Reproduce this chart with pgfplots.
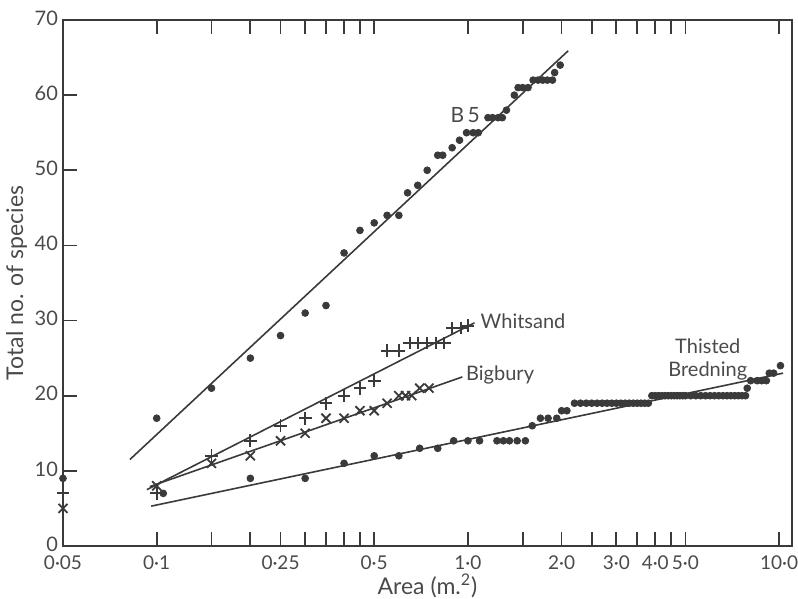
\documentclass[border=0pt]{standalone}
\usepackage{fontspec}
\setmainfont{Lato}
\usepackage{pgfplots}
\pgfplotsset{compat=1.18}
\definecolor{ink}{HTML}{3A3A3A}
\definecolor{txt}{HTML}{4A4A4A}

\begin{document}
\begin{tikzpicture}
\begin{axis}[
    name=ax,
    scale only axis,
    width=364.5pt, height=263pt,
    xmode=log,
    xmin=0.05, xmax=11,
    ymin=0, ymax=70,
    clip=false,
    axis line style={ink, line width=1pt},
    every tick/.style={ink, line width=0.9pt},
    tick align=inside,
    major tick length=7pt,
    xminorticks=false, yminorticks=false,
    xtick={0.05,0.1,0.15,0.2,0.25,0.3,0.35,0.4,0.45,0.5,1,1.5,2,2.5,3,3.5,4,4.5,5,10},
    xticklabels={0·05,0·1,,,0·25,,,,,0·5,1·0,,2·0,,3·0,,4·0,,5·0,10·0},
    xtick pos=both, xticklabel pos=lower,
    ytick={0,10,...,70},
    ytick pos=left,
    /pgf/number format/assume math mode=true,
    ticklabel style={text=txt},
    xticklabel style={font=\fontsize{9.5}{11}\selectfont, yshift=-1.5pt},
    yticklabel style={font=\fontsize{10}{11}\selectfont, xshift=1pt, yshift=1pt},
    xlabel={Area (m.\textsuperscript{2})},
    ylabel={Total no. of species},
    label style={text=txt, font=\fontsize{11.5}{13}\selectfont},
    xlabel style={yshift=5pt},
    ylabel style={yshift=-3pt},
]
% B5 (dots)
\addplot[only marks, mark=*, mark size=1.7pt, ink] coordinates {
 (0.05,9) (0.1,17) (0.15,21) (0.2,25) (0.25,28) (0.3,31) (0.35,32) (0.4,39)
 (0.45,42) (0.5,43) (0.55,44) (0.6,44) (0.64,47) (0.69,48) (0.74,50) (0.8,52)
 (0.83,52) (0.89,53) (0.94,54) (0.99,55) (1.04,55) (1.08,55) (1.16,57) (1.2,57)
 (1.25,57) (1.29,57) (1.33,58) (1.41,60) (1.45,61) (1.5,61) (1.56,61) (1.62,62)
 (1.68,62) (1.74,62) (1.8,62) (1.87,62) (1.9,63) (1.98,64) };
\addplot[ink, line width=0.8pt] coordinates { (0.082,11.5) (2.1,65.9) };
% Whitsand (+)
\addplot[only marks, mark=+, mark size=3.2pt, ink, mark options={line width=0.9pt}] coordinates {
 (0.05,7) (0.1,7) (0.15,12) (0.2,14) (0.25,16) (0.3,17) (0.35,19) (0.4,20)
 (0.45,21) (0.5,22) (0.55,26) (0.6,26) (0.65,27) (0.69,27) (0.74,27) (0.79,27)
 (0.84,27) (0.89,29) (0.95,29) (1.0,29.3) };
\addplot[ink, line width=0.8pt] coordinates { (0.093,7.5) (1.05,29.7) };
% Bigbury (x)
\addplot[only marks, mark=x, mark size=3.2pt, ink, mark options={line width=0.9pt}] coordinates {
 (0.05,5) (0.1,8) (0.15,11) (0.2,12) (0.25,14) (0.3,15) (0.35,17) (0.4,17)
 (0.45,18) (0.5,18) (0.55,19) (0.6,20) (0.63,20) (0.66,20) (0.7,21) (0.75,21) };
\addplot[ink, line width=0.8pt] coordinates { (0.095,7.9) (0.96,22.5) };
% Thisted Bredning (dots)
\addplot[only marks, mark=*, mark size=1.7pt, ink] coordinates {
 (0.105,7) (0.2,9) (0.3,9) (0.4,11) (0.5,12) (0.6,12) (0.7,13) (0.8,13)
 (0.9,14) (1.0,14) (1.09,14) (1.24,14) (1.3,14) (1.36,14) (1.44,14) (1.53,14)
 (1.61,16) (1.71,17) (1.81,17) (1.93,17) (2.0,18) (2.08,18)
 (2.2,19) (2.3,19) (2.4,19) (2.5,19) (2.6,19) (2.7,19) (2.8,19) (2.9,19) (3.0,19)
 (3.1,19) (3.2,19) (3.3,19) (3.4,19) (3.5,19) (3.6,19) (3.7,19) (3.8,19)
 (3.9,20) (4.0,20) (4.1,20) (4.2,20) (4.3,20) (4.4,20) (4.5,20) (4.6,20) (4.7,20)
 (4.8,20) (4.9,20) (5.0,20) (5.2,20) (5.4,20) (5.6,20) (5.8,20) (6.0,20) (6.2,20)
 (6.4,20) (6.6,20) (6.8,20) (7.0,20) (7.2,20) (7.4,20) (7.6,20) (7.8,20)
 (7.9,21) (8.1,22) (8.5,22) (8.8,22) (9.1,22) (9.3,23) (9.6,23) (10.1,24) };
\addplot[ink, line width=0.8pt] coordinates { (0.096,5.3) (10.3,23.0) };
% labels
\node[anchor=center, text=txt, font=\fontsize{10.5}{12}\selectfont] at (axis cs:0.98,57.4) {B\,5};
\node[anchor=west, text=txt, font=\fontsize{10}{12}\selectfont, inner sep=1pt] at (axis cs:1.08,29.9) {Whitsand};
\node[anchor=west, text=txt, font=\fontsize{10}{12}\selectfont, inner sep=1pt] at (axis cs:0.97,22.7) {Bigbury};
\node[align=center, text=txt, font=\fontsize{10}{11.5}\selectfont] at (axis cs:5.9,24.8) {Thisted\\Bredning};
\end{axis}
\pgfresetboundingbox
\path ([xshift=-31.5pt,yshift=-26.5pt]ax.south west) rectangle ([xshift=3pt,yshift=10pt]ax.north east);
\end{tikzpicture}
\end{document}
